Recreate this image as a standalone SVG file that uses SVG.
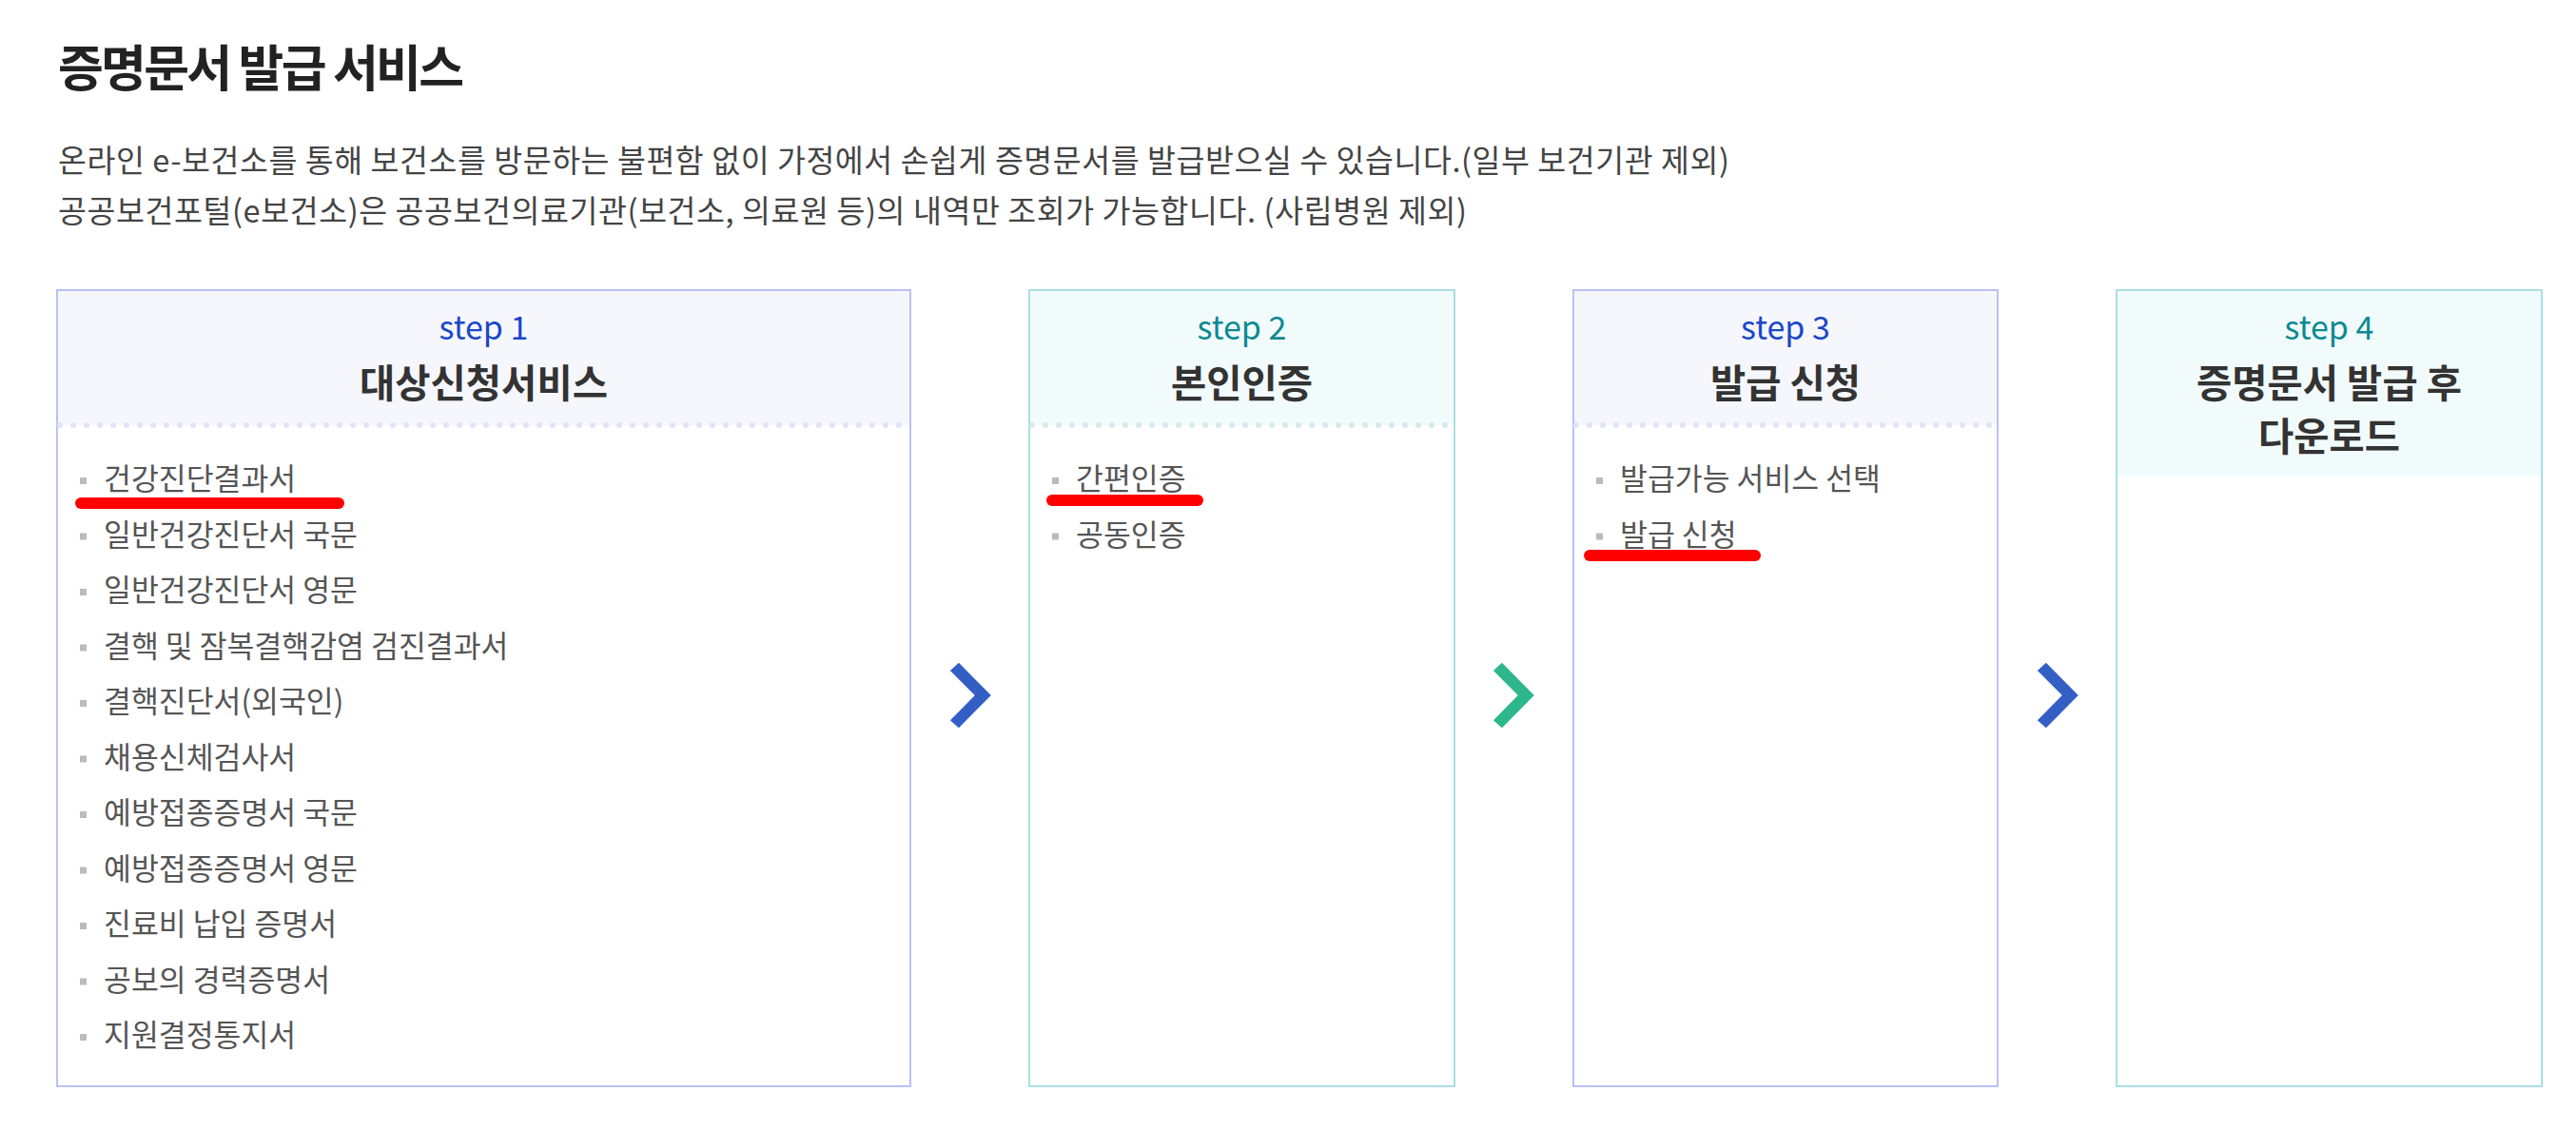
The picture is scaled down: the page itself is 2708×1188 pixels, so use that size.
<svg xmlns="http://www.w3.org/2000/svg" xmlns:xlink="http://www.w3.org/1999/xlink" width="2708" height="1188" viewBox="0 0 2708 1188">
<style>
  text { font-family: "Noto Sans CJK KR", "Noto Sans", "Liberation Sans", sans-serif; }
  .title { font-size: 52px; font-weight: 700; fill: #222; }
  .desc { font-size: 32.5px; fill: #444; }
  .boxA { fill: #fff; stroke: #b9c1f6; stroke-width: 2; }
  .boxB { fill: #fff; stroke: #a9dfe4; stroke-width: 2; }
  .headA { fill: #f5f7fd; }
  .headB { fill: #f2fbfb; }
  .dotA { stroke: #dfe4f8; stroke-width: 6; stroke-linecap: round; stroke-dasharray: 0 14; }
  .dotB { stroke: #d4eaec; stroke-width: 6; stroke-linecap: round; stroke-dasharray: 0 14; }
  .stepA { font-size: 34px; fill: #1b47c8; text-anchor: middle; }
  .stepB { font-size: 34px; fill: #0b8a92; text-anchor: middle; }
  .stitle { font-size: 40.5px; font-weight: 700; fill: #333; text-anchor: middle; }
  .item { font-size: 31.4px; fill: #555; }
  .bul { fill: #bbb; }
  .mark { fill: #ff0000; }
  .chevA { fill: #335fc4; }
  .chevB { fill: #2db78a; }
</style>
<defs>
  <path id="chev" d="M-12.1,-34.3 L21.8,0 L-12.1,34.3 L-21.1,26.3 L4.8,0 L-21.1,-26 Z"/>
</defs>

<g id="header">
  <text class="title" x="61" y="91" textLength="427" lengthAdjust="spacing">증명문서 발급 서비스</text>
  <text class="desc" x="61" y="181" textLength="1757" lengthAdjust="spacing">온라인 e-보건소를 통해 보건소를 방문하는 불편함 없이 가정에서 손쉽게 증명문서를 발급받으실 수 있습니다.(일부 보건기관 제외)</text>
  <text class="desc" x="61" y="234" textLength="1481" lengthAdjust="spacing">공공보건포털(e보건소)은 공공보건의료기관(보건소, 의료원 등)의 내역만 조회가 가능합니다. (사립병원 제외)</text>
</g>

<g id="step1">
  <rect class="boxA" x="60" y="305" width="897" height="837"/>
  <rect class="headA" x="61" y="306" width="895" height="141"/>
  <line class="dotA" x1="63" y1="447" x2="955" y2="447"/>
  <text class="stepA" x="508.5" y="357">step 1</text>
  <text class="stitle" x="508.5" y="418">대상신청서비스</text>
  <rect class="mark" x="79" y="523" width="283" height="12" rx="6"/>
  <g>
    <rect class="bul" x="84" y="502" width="7" height="7"/>
    <text class="item" x="109" y="515">건강진단결과서</text>
    <rect class="bul" x="84" y="560.5" width="7" height="7"/>
    <text class="item" x="109" y="573.5">일반건강진단서 국문</text>
    <rect class="bul" x="84" y="619" width="7" height="7"/>
    <text class="item" x="109" y="632">일반건강진단서 영문</text>
    <rect class="bul" x="84" y="677.5" width="7" height="7"/>
    <text class="item" x="109" y="690.5">결핵 및 잠복결핵감염 검진결과서</text>
    <rect class="bul" x="84" y="736" width="7" height="7"/>
    <text class="item" x="109" y="749">결핵진단서(외국인)</text>
    <rect class="bul" x="84" y="794.5" width="7" height="7"/>
    <text class="item" x="109" y="807.5">채용신체검사서</text>
    <rect class="bul" x="84" y="853" width="7" height="7"/>
    <text class="item" x="109" y="866">예방접종증명서 국문</text>
    <rect class="bul" x="84" y="911.5" width="7" height="7"/>
    <text class="item" x="109" y="924.5">예방접종증명서 영문</text>
    <rect class="bul" x="84" y="970" width="7" height="7"/>
    <text class="item" x="109" y="983">진료비 납입 증명서</text>
    <rect class="bul" x="84" y="1028.5" width="7" height="7"/>
    <text class="item" x="109" y="1041.5">공보의 경력증명서</text>
    <rect class="bul" x="84" y="1087" width="7" height="7"/>
    <text class="item" x="109" y="1100">지원결정통지서</text>
  </g>
</g>

<g id="step2">
  <rect class="boxB" x="1082" y="305" width="447" height="837"/>
  <rect class="headB" x="1083" y="306" width="445" height="141"/>
  <line class="dotB" x1="1085" y1="447" x2="1527" y2="447"/>
  <text class="stepB" x="1305.5" y="357">step 2</text>
  <text class="stitle" x="1305.5" y="418">본인인증</text>
  <rect class="mark" x="1100" y="520" width="165" height="12" rx="6"/>
  <rect class="bul" x="1106" y="502" width="7" height="7"/>
  <text class="item" x="1131" y="515">간편인증</text>
  <rect class="bul" x="1106" y="560.5" width="7" height="7"/>
  <text class="item" x="1131" y="573.5">공동인증</text>
</g>

<g id="step3">
  <rect class="boxA" x="1654" y="305" width="446" height="837"/>
  <rect class="headA" x="1655" y="306" width="444" height="141"/>
  <line class="dotA" x1="1657" y1="447" x2="2098" y2="447"/>
  <text class="stepA" x="1877" y="357">step 3</text>
  <text class="stitle" x="1877" y="418">발급 신청</text>
  <rect class="mark" x="1665" y="578" width="186" height="12" rx="6"/>
  <rect class="bul" x="1678" y="502" width="7" height="7"/>
  <text class="item" x="1703" y="515">발급가능 서비스 선택</text>
  <rect class="bul" x="1678" y="560.5" width="7" height="7"/>
  <text class="item" x="1703" y="573.5">발급 신청</text>
</g>

<g id="step4">
  <rect class="boxB" x="2225" y="305" width="447" height="837"/>
  <rect class="headB" x="2226" y="306" width="445" height="195"/>
  <text class="stepB" x="2448.5" y="357">step 4</text>
  <text class="stitle" x="2448.5" y="418">증명문서 발급 후</text>
  <text class="stitle" x="2448.5" y="474">다운로드</text>
</g>

<g id="connectors">
  <use xlink:href="#chev" class="chevA" transform="translate(1020,731)"/>
  <use xlink:href="#chev" class="chevB" transform="translate(1591,731)"/>
  <use xlink:href="#chev" class="chevA" transform="translate(2163,731)"/>
</g>
</svg>
